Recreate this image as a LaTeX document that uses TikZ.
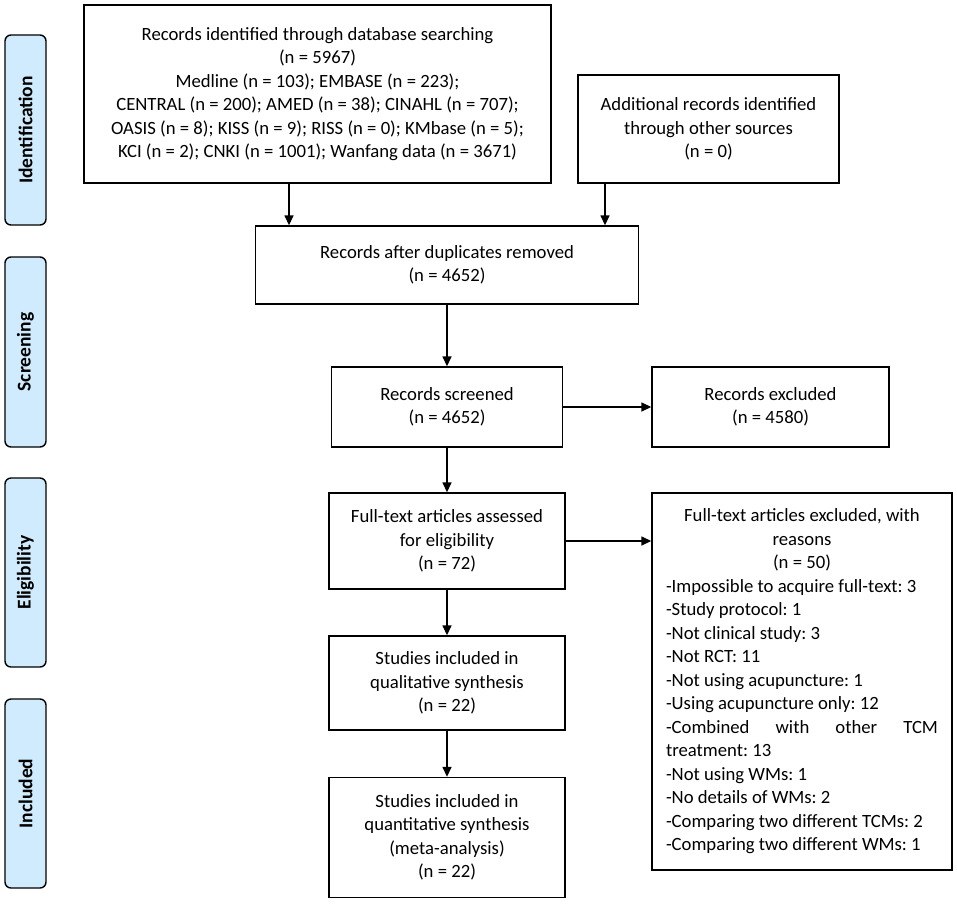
\documentclass[tikz,border=0pt]{standalone}
\usepackage{fontspec}
\setmainfont{Carlito}
\usetikzlibrary{arrows.meta}
\definecolor{sideblue}{HTML}{D0EBFD}
\frenchspacing
\tikzset{
  box/.style={draw, line width=1.4pt, align=center, inner sep=0pt,
    font=\fontsize{18.7}{23.5}\selectfont\frenchspacing},
  side/.style={draw, fill=sideblue, line width=1.4pt, rounded corners=6pt,
    rotate=90, inner sep=0pt, minimum height=41pt,
    font=\fontsize{19.5}{23}\selectfont\bfseries},
  arr/.style={line width=1.5pt, -{Triangle[length=10pt,width=9pt]}}
}
\begin{document}
\begin{tikzpicture}[x=1pt,y=-1pt]
\useasboundingbox (0,0) rectangle (957,906);
% side labels
\node[side, minimum width=190pt] (sid) at (25.5,130) {Identification};
\node[side, minimum width=190pt] (sscr) at (25.5,352) {Screening};
\node[side, minimum width=189pt] (sel) at (25.5,572.5) {Eligibility};
\node[side, minimum width=189pt] (sinc) at (25.5,793.5) {Included};
% boxes
\node[box, minimum width=467pt, minimum height=178pt] (db) at (317.5,94)
  {Records identified through database searching\\(n = 5967)\\Medline (n = 103); EMBASE (n = 223);\\CENTRAL (n = 200); AMED (n = 38); CINAHL (n = 707);\\OASIS (n = 8); KISS (n = 9); RISS (n = 0); KMbase (n = 5);\\KCI (n = 2); CNKI (n = 1001); Wanfang data (n = 3671)};
\node[box, minimum width=261pt, minimum height=108pt] (add) at (708.5,129)
  {Additional records identified\\through other sources\\(n = 0)};
\node[box, minimum width=383pt, minimum height=78pt] (dup) at (447,265)
  {Records after duplicates removed\\(n = 4652)};
\node[box, minimum width=231pt, minimum height=80pt] (scr) at (447,407)
  {Records screened\\(n = 4652)};
\node[box, minimum width=237pt, minimum height=80pt] (exc) at (770.5,407)
  {Records excluded\\(n = 4580)};
\node[box, minimum width=236pt, minimum height=96pt] (full) at (447,541)
  {Full-text articles assessed\\for eligibility\\(n = 72)};
\node[box, minimum width=300pt, minimum height=377pt, text width=272pt, align=none] (fexc) at (802,681.5)
  {\centering Full-text articles excluded, with\\ reasons\\ (n = 50)\par
   \raggedright -Impossible to acquire full-text: 3\\
   -Study protocol: 1\\
   -Not clinical study: 3\\
   -Not RCT: 11\\
   -Not using acupuncture: 1\\
   -Using acupuncture only: 12\\
   \makebox[\linewidth][s]{-Combined with other TCM}\\
   treatment: 13\\
   -Not using WMs: 1\\
   -No details of WMs: 2\\
   -Comparing two different TCMs: 2\\
   -Comparing two different WMs: 1\par};
\node[box, minimum width=236pt, minimum height=94pt] (qual) at (447,683)
  {Studies included in\\qualitative synthesis\\(n = 22)};
\node[box, minimum width=236pt, minimum height=120pt] (quant) at (447,837.5)
  {Studies included in\\quantitative synthesis\\(meta-analysis)\\(n = 22)};
% arrow anchors
\coordinate (c1) at (289,0);
\coordinate (c2) at (605,0);
% connectors
\draw[arr] (db.south -| c1) -- (dup.north -| c1);
\draw[arr] (add.south -| c2) -- (dup.north -| c2);
\draw[arr] (dup) -- (scr);
\draw[arr] (scr) -- (exc);
\draw[arr] (scr.south) -- (full.north);
\draw[arr] (full.east) -- (fexc.west |- full.east);
\draw[arr] (full) -- (qual);
\draw[arr] (qual) -- (quant);
\end{tikzpicture}
\end{document}
